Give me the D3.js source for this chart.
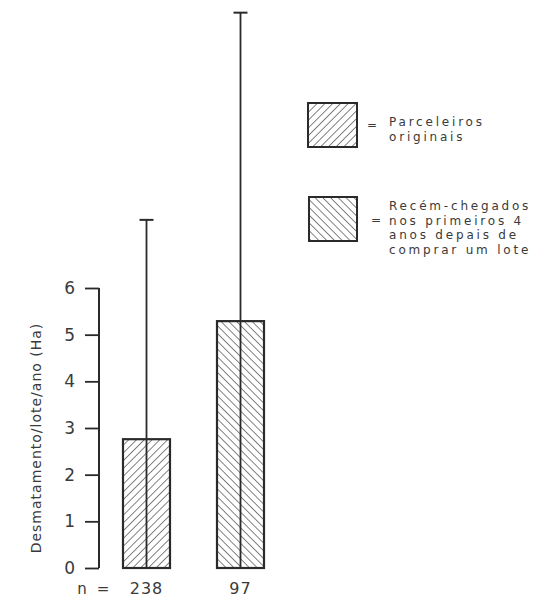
<!DOCTYPE html>
<html>
<head>
<meta charset="utf-8">
<script src="https://cdn.jsdelivr.net/npm/d3@7"></script>
<style>
  body { margin: 0; background: #fff; }
  text { font-family: "DejaVu Sans", sans-serif; fill: #3a3a3a; }
</style>
</head>
<body>
<svg id="chart" width="533" height="600"></svg>
<script>
const categories = ["238", "97"];
const means = [2.76, 5.29];
const errTops = [7.46, 11.9];
const patterns = ["fwd", "back"];
const yTicks = [0, 1, 2, 3, 4, 5, 6];
const yLabel = "Desmatamento/lote/ano (Ha)";
const legend1 = ["Parceleiros", "originais"];
const legend2 = ["Recém-chegados", "nos primeiros 4", "anos depais de", "comprar um lote"];

const svg = d3.select("#chart");
const ink = "#2a2a2a";

const defs = svg.append("defs");
function hatch(id, dir) {
  const p = defs.append("pattern").attr("id", id)
    .attr("patternUnits", "userSpaceOnUse")
    .attr("width", 5.5).attr("height", 5.5)
    .attr("patternTransform", `rotate(${dir === "fwd" ? 45 : -45})`);
  p.append("rect").attr("width", 5.5).attr("height", 5.5).attr("fill", "#fff");
  p.append("line").attr("x1", 0).attr("y1", 0).attr("x2", 0).attr("y2", 5.5)
    .attr("stroke", "#5a5a5a").attr("stroke-width", 1.5);
}
hatch("fwd", "fwd");
hatch("back", "back");

const y = d3.scaleLinear().domain([0, 12]).range([568, 8]);
const x = d3.scaleBand().domain(categories).range([99.5, 287.5])
  .paddingInner(0.5).paddingOuter(0.25);

// y axis
const axis = svg.append("g").attr("transform", "translate(99,0)")
  .call(d3.axisLeft(y).tickValues(yTicks).tickSize(14).tickPadding(10).tickFormat(d3.format("d")));
axis.select(".domain").remove();
axis.selectAll(".tick line").attr("stroke", ink).attr("stroke-width", 1.8);
axis.selectAll(".tick text").style("font-size", "17px").attr("fill", "#3a3a3a")
  .attr("font-family", "DejaVu Sans");
axis.append("line").attr("x1", 0).attr("x2", 0).attr("y1", y(6)).attr("y2", y(0))
  .attr("stroke", ink).attr("stroke-width", 2);

// y label
svg.append("text")
  .attr("transform", `translate(41,${(y(0) + y(6)) / 2 + 10}) rotate(-90)`)
  .attr("text-anchor", "middle")
  .style("font-size", "14px").style("letter-spacing", "1px")
  .text(yLabel);

// bars
const bars = svg.append("g");
categories.forEach((c, i) => {
  const bx = x(c), bw = x.bandwidth(), cx = bx + bw / 2;
  bars.append("rect")
    .attr("x", bx).attr("y", y(means[i]))
    .attr("width", bw).attr("height", y(0) - y(means[i]))
    .attr("fill", `url(#${patterns[i]})`)
    .attr("stroke", ink).attr("stroke-width", 2.2);
  bars.append("line").attr("x1", cx).attr("x2", cx)
    .attr("y1", y(0)).attr("y2", y(errTops[i]))
    .attr("stroke", ink).attr("stroke-width", 1.8);
  bars.append("line").attr("x1", cx - 7).attr("x2", cx + 7)
    .attr("y1", y(errTops[i])).attr("y2", y(errTops[i]))
    .attr("stroke", ink).attr("stroke-width", 2);
  svg.append("text").attr("x", cx).attr("y", 594)
    .attr("text-anchor", "middle")
    .style("font-size", "16px").style("letter-spacing", "1px")
    .text(c);
});
svg.append("text").attr("x", 82).attr("y", 594).attr("text-anchor", "middle")
  .style("font-size", "15px").text("n");
svg.append("text").attr("x", 103).attr("y", 594).attr("text-anchor", "middle")
  .style("font-size", "15px").text("=");

// legend
const lg = svg.append("g");
lg.append("rect").attr("x", 308).attr("y", 103).attr("width", 49).attr("height", 44)
  .attr("fill", "url(#fwd)").attr("stroke", ink).attr("stroke-width", 2);
lg.append("text").attr("x", 372).attr("y", 129).attr("text-anchor", "middle")
  .style("font-size", "12px").text("=");
legend1.forEach((t, i) => {
  lg.append("text").attr("x", 389).attr("y", 126 + i * 14.5)
    .style("font-size", "12px").style("letter-spacing", "2.8px").text(t);
});
lg.append("rect").attr("x", 309).attr("y", 197).attr("width", 48).attr("height", 44)
  .attr("fill", "url(#back)").attr("stroke", ink).attr("stroke-width", 2);
lg.append("text").attr("x", 376).attr("y", 224).attr("text-anchor", "middle")
  .style("font-size", "12px").text("=");
legend2.forEach((t, i) => {
  lg.append("text").attr("x", 389).attr("y", 210 + i * 14.5)
    .style("font-size", "12px").style("letter-spacing", "2.8px").text(t);
});
</script>
</body>
</html>
